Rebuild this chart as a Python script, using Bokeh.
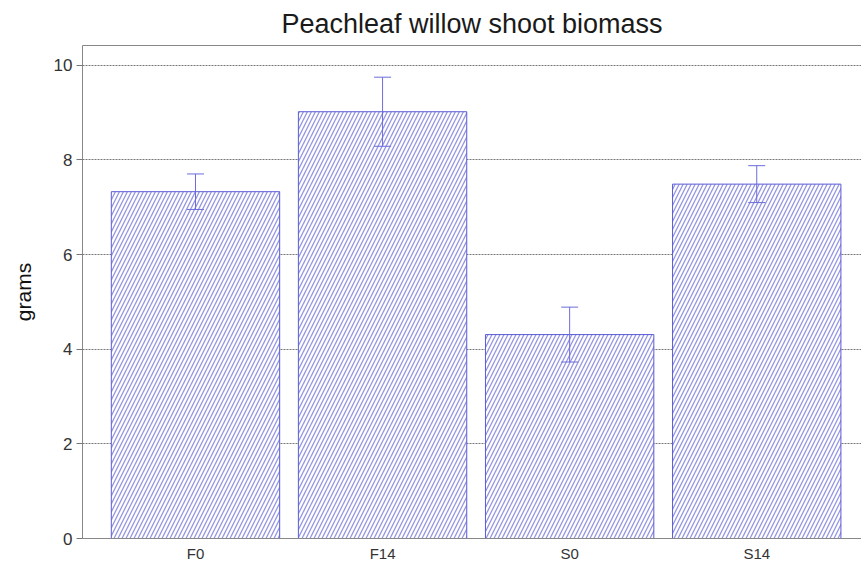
import numpy as np
from bokeh.plotting import figure
from bokeh.models import (ColumnDataSource, Range1d, FixedTicker, LinearAxis,
                          Whisker, TeeHead)
from bokeh.embed import file_html
from bokeh.resources import INLINE

categories = ["F0", "F14", "S0", "S14"]
means = [7.33, 9.02, 4.31, 7.49]
errors = [0.375, 0.73, 0.58, 0.39]
y_ticks = [0, 2, 4, 6, 8, 10]

x = np.arange(len(categories)) + 0.5
src = ColumnDataSource(dict(
    x=x, top=means,
    upper=[m + e for m, e in zip(means, errors)],
    lower=[m - e for m, e in zip(means, errors)],
))

FONT = "Liberation Sans"
p = figure(width=861, height=567, output_backend="svg", toolbar_location=None,
           x_range=Range1d(-0.104, 4.06), y_range=Range1d(0, 10.42),
           min_border_left=82, min_border_right=0, min_border_top=45,
           min_border_bottom=29, title="Peachleaf willow shoot biomass")
p.title.text_font = FONT
p.title.text_font_size = "27px"
p.title.text_font_style = "normal"
p.title.text_color = "#1a1a1a"
p.title.align = "center"
p.title.standoff = 13

p.outline_line_color = None
p.background_fill_color = "white"
p.border_fill_color = "white"

p.vbar(x="x", top="top", bottom=0, width=0.9, source=src,
       fill_color="white", line_color="#5a5ad6", line_width=1,
       hatch_pattern="/", hatch_color="#9494e4", hatch_scale=8, hatch_weight=1.3)

head_color = "#6c6cda"
w = Whisker(base="x", upper="upper", lower="lower", source=src, level="overlay",
            line_color=head_color, line_width=1,
            upper_head=TeeHead(size=17, line_color=head_color, line_width=1),
            lower_head=TeeHead(size=17, line_color=head_color, line_width=1))
p.add_layout(w)

# axes
p.xaxis.ticker = FixedTicker(ticks=list(x))
p.xaxis.major_label_overrides = {float(v): c for v, c in zip(x, categories)}
p.xaxis.major_tick_line_color = None
p.xaxis.major_tick_in = 0
p.xaxis.major_tick_out = 0
p.xaxis.minor_tick_line_color = None
p.xaxis.axis_line_color = "#888888"
p.xaxis.major_label_text_font = FONT
p.xaxis.major_label_text_font_size = "15px"
p.xaxis.major_label_text_color = "#333333"
p.xaxis.major_label_standoff = 6

p.yaxis.ticker = FixedTicker(ticks=y_ticks)
p.yaxis.minor_tick_line_color = None
p.yaxis.major_tick_in = 0
p.yaxis.major_tick_out = 6
p.yaxis.major_tick_line_color = "#777777"
p.yaxis.axis_line_color = "#888888"
p.yaxis.major_label_text_font = FONT
p.yaxis.major_label_text_font_size = "17px"
p.yaxis.major_label_text_color = "#333333"
p.yaxis.major_label_standoff = 4
p.yaxis.axis_label = "grams"
p.yaxis.axis_label_text_font = FONT
p.yaxis.axis_label_text_font_size = "21px"
p.yaxis.axis_label_text_font_style = "normal"
p.yaxis.axis_label_text_color = "#111111"
p.yaxis.axis_label_standoff = 16

top_axis = LinearAxis(ticker=FixedTicker(ticks=[]), axis_line_color="#888888",
                      major_tick_line_color=None, minor_tick_line_color=None,
                      major_tick_in=0, major_tick_out=0)
p.add_layout(top_axis, "above")

p.xgrid.grid_line_color = None
p.ygrid.grid_line_color = "#777777"
p.ygrid.grid_line_dash = "2 1"
p.ygrid.grid_line_width = 1
p.ygrid.level = "underlay"

open("out.html", "w").write(file_html(p, INLINE))
